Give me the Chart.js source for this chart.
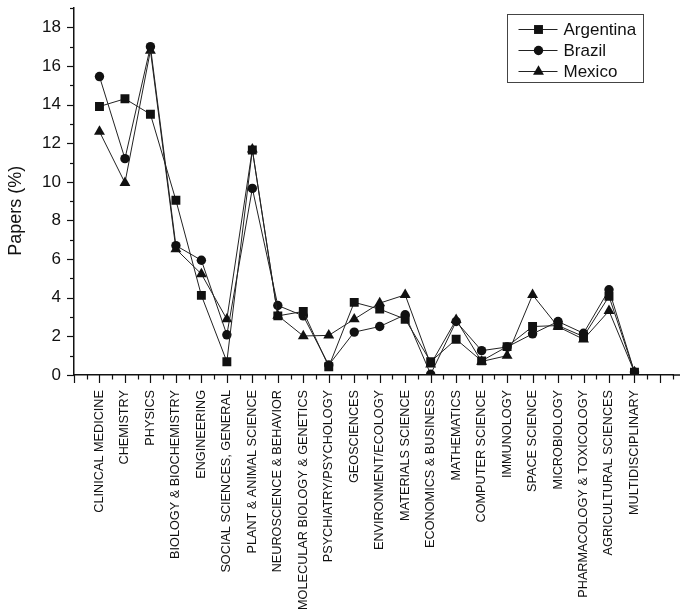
<!DOCTYPE html>
<html>
<head>
<meta charset="utf-8">
<script src="https://cdn.jsdelivr.net/npm/chart.js@4"></script>
<style>
  html, body { margin: 0; padding: 0; background: #fff; }
  canvas { display: block; }
</style>
</head>
<body>
<canvas id="c" width="680" height="613"></canvas>
<script>
// Share of papers by subject field, per country
const categories = [
  'CLINICAL MEDICINE', 'CHEMISTRY', 'PHYSICS', 'BIOLOGY & BIOCHEMISTRY',
  'ENGINEERING', 'SOCIAL SCIENCES, GENERAL', 'PLANT & ANIMAL SCIENCE',
  'NEUROSCIENCE & BEHAVIOR', 'MOLECULAR BIOLOGY & GENETICS',
  'PSYCHIATRY/PSYCHOLOGY', 'GEOSCIENCES', 'ENVIRONMENT/ECOLOGY',
  'MATERIALS SCIENCE', 'ECONOMICS & BUSINESS', 'MATHEMATICS',
  'COMPUTER SCIENCE', 'IMMUNOLOGY', 'SPACE SCIENCE', 'MICROBIOLOGY',
  'PHARMACOLOGY & TOXICOLOGY', 'AGRICULTURAL SCIENCES', 'MULTIDISCIPLINARY'
];

const argentina = [13.9, 14.3, 13.5, 9.05, 4.12, 0.69, 11.65, 3.06, 3.29, 0.43, 3.76,
                   3.41, 2.89, 0.69, 1.85, 0.73, 1.47, 2.51, 2.56, 1.99, 4.07, 0.15];
const brazil    = [15.45, 11.2, 17.0, 6.7, 5.94, 2.08, 9.66, 3.6, 3.06, 0.52, 2.22,
                   2.51, 3.12, 0.04, 2.77, 1.26, 1.45, 2.13, 2.77, 2.16, 4.41, 0.15];
const mexico    = [12.6, 9.95, 16.8, 6.52, 5.23, 2.89, 11.68, 3.08, 2.02, 2.05, 2.89,
                   3.72, 4.15, 0.55, 2.86, 0.7, 1.0, 4.15, 2.5, 1.85, 3.32, 0.15];

const seriesNames = ['Argentina', 'Brazil', 'Mexico'];
const yTicks = [0, 2, 4, 6, 8, 10, 12, 14, 16, 18];
const yTitle = 'Papers (%)';

const FONT = "'Liberation Sans', Arial, Helvetica, sans-serif";
const INK = '#111';

const styles = [
  { pointStyle: 'rect', pointRadius: 6.3 },
  { pointStyle: 'circle', pointRadius: 4.7 },
  { pointStyle: 'triangle', pointRadius: 6.3 }
];

const toPoints = arr => arr.map((v, i) => ({ x: i, y: v }));

const datasets = [argentina, brazil, mexico].map((vals, k) => ({
  label: seriesNames[k],
  data: toPoints(vals),
  borderColor: '#222',
  borderWidth: 1,
  backgroundColor: INK,
  pointBackgroundColor: INK,
  pointBorderColor: INK,
  pointBorderWidth: 0,
  pointStyle: styles[k].pointStyle,
  pointRadius: styles[k].pointRadius,
  tension: 0,
  fill: false
}));

// Major/minor tick marks, the y title and the boxed legend
const decorations = {
  id: 'decorations',
  afterDraw(chart) {
    const { ctx, chartArea } = chart;
    const xs = chart.scales.x, ys = chart.scales.y;
    ctx.save();
    ctx.strokeStyle = INK;
    ctx.lineWidth = 1.2;

    // bottom axis runs on to the right edge of the canvas
    const yb = chartArea.bottom;
    ctx.lineWidth = 1.5;
    ctx.beginPath();
    ctx.moveTo(chartArea.right - 1, yb);
    ctx.lineTo(chart.width, yb);
    ctx.stroke();
    ctx.lineWidth = 1.2;

    // x ticks: major at each category, minor halfway between
    for (let v = xs.min; v <= xs.max + 1e-6; v += 0.5) {
      const px = Math.round(xs.getPixelForValue(v)) + 0.5;
      const major = Math.abs(v - Math.round(v)) < 1e-6;
      ctx.beginPath();
      ctx.moveTo(px, yb);
      ctx.lineTo(px, yb + (major ? 8 : 4.5));
      ctx.stroke();
    }
    // y ticks: major at labelled values, minor on the odd ones
    const xl = chartArea.left;
    for (let v = ys.min; v <= ys.max + 1e-6; v += 1) {
      const py = Math.round(ys.getPixelForValue(v)) + 0.5;
      const major = v % 2 === 0;
      ctx.beginPath();
      ctx.moveTo(xl, py);
      ctx.lineTo(xl - (major ? 7 : 4), py);
      ctx.stroke();
    }

    // y-axis title
    ctx.fillStyle = INK;
    ctx.font = '18px ' + FONT;
    ctx.textAlign = 'center';
    ctx.textBaseline = 'middle';
    ctx.translate(16, ys.getPixelForValue(8.5));
    ctx.rotate(-Math.PI / 2);
    ctx.fillText(yTitle, 0, 0);
    ctx.restore();

    // legend box inside the plot, top right
    ctx.save();
    const bx = chart.width - 172.5, by = 14.5, bw = 136, bh = 68;
    ctx.strokeStyle = '#444';
    ctx.lineWidth = 1;
    ctx.strokeRect(bx, by, bw, bh);
    ctx.font = '17px ' + FONT;
    ctx.textAlign = 'left';
    ctx.textBaseline = 'middle';
    chart.data.datasets.forEach((ds, i) => {
      const cy = by + 15 + i * 21;
      ctx.strokeStyle = '#222';
      ctx.lineWidth = 1;
      ctx.beginPath();
      ctx.moveTo(bx + 11, cy);
      ctx.lineTo(bx + 50, cy);
      ctx.stroke();
      ctx.fillStyle = INK;
      ctx.strokeStyle = INK;
      Chart.helpers.drawPoint(ctx, {
        pointStyle: ds.pointStyle, radius: ds.pointRadius, rotation: 0, borderWidth: 0
      }, bx + 31, cy);
      ctx.fillStyle = INK;
      ctx.fillText(ds.label, bx + 56, cy + 1);
    });
    ctx.restore();
  }
};

new Chart(document.getElementById('c'), {
  type: 'line',
  data: { datasets },
  options: {
    responsive: false,
    devicePixelRatio: 1,
    animation: false,
    layout: { padding: { top: 8, right: 0, bottom: 0, left: 0 } },
    plugins: { legend: { display: false }, tooltip: { enabled: false } },
    scales: {
      x: {
        type: 'linear',
        min: -1,
        max: 22.54,
        grid: { display: false, drawTicks: false },
        border: { display: true, color: INK, width: 1.5 },
        ticks: {
          stepSize: 1,
          autoSkip: false,
          maxRotation: 90,
          minRotation: 90,
          padding: 15,
          color: INK,
          font: { family: FONT, size: 12.7 },
          callback: v => (Number.isInteger(v) && v >= 0 && v < categories.length) ? categories[v] : null
        },
        afterFit: s => {
          s.height = 238;
        }
      },
      y: {
        min: 0,
        max: 19,
        grid: { display: false, drawTicks: false },
        border: { display: true, color: INK, width: 1.5 },
        ticks: {
          stepSize: 1,
          autoSkip: false,
          padding: 13,
          color: INK,
          font: { family: FONT, size: 17 },
          callback: v => yTicks.includes(v) ? String(v) : null
        },
        afterFit: s => {
          s.width = 74;
          s.paddingTop = 0;
          s.paddingBottom = 0;
        }
      }
    }
  },
  plugins: [decorations]
});
</script>
</body>
</html>
